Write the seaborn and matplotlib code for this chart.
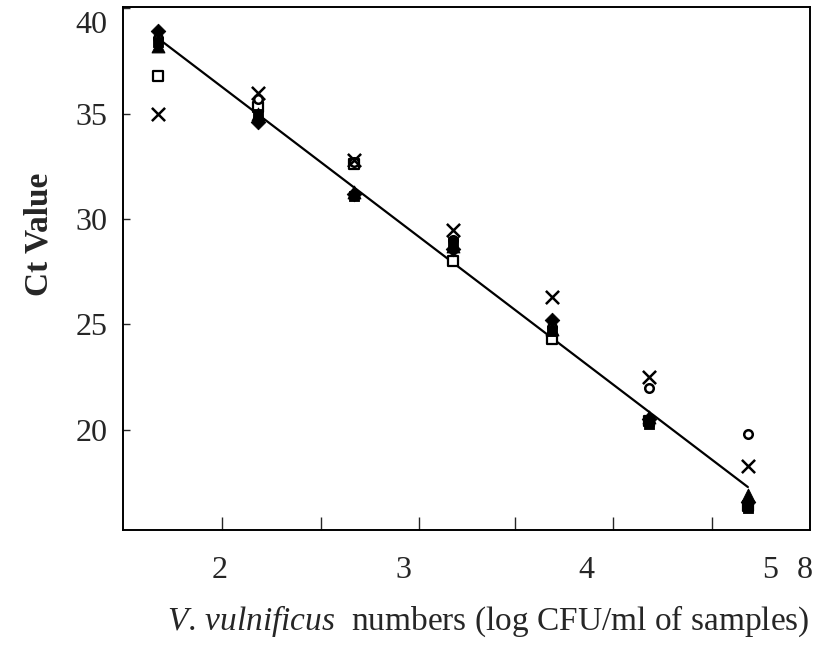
import matplotlib
matplotlib.use('Agg')
import matplotlib.pyplot as plt
import matplotlib.transforms as mtransforms
import seaborn as sns

# log CFU/ml of samples for each dilution
log_cfu = [1.66, 2.21, 2.73, 3.27, 3.81, 4.34, 4.88]

# Ct values per sample (one list per marker)
ct_diamond = [38.9, 34.6, 31.2, 28.6, 25.2, 20.5, 16.6]
ct_fsquare = [38.4, 35.0, 31.1, 28.9, 24.7, 20.3, 16.3]
ct_triangle = [38.2, 35.0, 31.3, 28.7, 24.8, 20.6, 16.9]
ct_osquare = [36.8, 35.3, 32.6, 28.0, 24.3, 20.4, 16.4]
ct_cross = [35.0, 36.0, 32.8, 29.5, 26.3, 22.5, 18.3]
ct_circle = [38.6, 35.7, 32.7, 29.0, 24.9, 22.0, 19.8]

# axis labels as printed in the figure
xtick_pos = [2, 3, 4, 5, 5.19]
xtick_labels = ['2', '3', '4', '5', '8']
xtick_marks = [2.011, 2.551, 3.085, 3.609, 4.144, 4.684]
ytick_pos = [20, 25, 30, 35, 40]

sns.set_style('white')
plt.rcParams['font.family'] = ['Liberation Serif', 'DejaVu Serif']
plt.rcParams['mathtext.fontset'] = 'custom'
plt.rcParams['mathtext.rm'] = 'Liberation Serif'
plt.rcParams['mathtext.it'] = 'Liberation Serif:italic'

fig = plt.figure(figsize=(8.21, 6.48), dpi=100)
ax = fig.add_axes([0.1498, 0.182, 0.8368, 0.807])

# fitted line
sns.regplot(x=log_cfu, y=ct_triangle, scatter=False, ci=None, truncate=True,
            color='black', line_kws={'linewidth': 1.6}, ax=ax)

sns.scatterplot(x=log_cfu, y=ct_osquare, marker='s', s=60, facecolor='white',
                edgecolor='black', linewidth=1.6, ax=ax, zorder=3)
sns.scatterplot(x=log_cfu, y=ct_circle, marker='o', s=38, facecolor='white',
                edgecolor='black', linewidth=1.8, ax=ax, zorder=3)
sns.scatterplot(x=log_cfu, y=ct_fsquare, marker='s', s=60, color='black',
                edgecolor='black', ax=ax, zorder=4)
sns.scatterplot(x=log_cfu, y=ct_triangle, marker='^', s=85, color='black',
                edgecolor='black', ax=ax, zorder=4)
sns.scatterplot(x=log_cfu, y=ct_diamond, marker='D', s=55, color='black',
                edgecolor='black', ax=ax, zorder=4)
sns.scatterplot(x=log_cfu, y=ct_cross, marker='x', s=90, color='black',
                linewidth=1.8, ax=ax, zorder=5)

ax.set_xlim(1.471, 5.219)
ax.set_ylim(15.25, 40.05)

ax.set_xticks(xtick_pos)
ax.set_xticklabels(xtick_labels)
ax.set_xticks(xtick_marks, minor=True)
ax.tick_params(axis='x', which='major', length=0, pad=19, labelsize=23)
ax.tick_params(axis='x', which='minor', direction='in', length=9.5, width=1, bottom=True)
ax.set_yticks(ytick_pos)
ax.tick_params(axis='y', direction='in', length=5, width=1, pad=11, labelsize=23, left=True)

# the "40" label sits a little below the top edge in the original
top_lab = ax.yaxis.get_major_ticks()[-1].label1
top_lab.set_transform(top_lab.get_transform() +
                      mtransforms.ScaledTranslation(0, -14 / 100, fig.dpi_scale_trans))

for sp in ax.spines.values():
    sp.set_color('black')
    sp.set_linewidth(1.4)

ax.set_ylabel('Ct Value', fontsize=24, fontweight='bold')
ax.yaxis.set_label_coords(-0.099, 0.566)
ax.set_xlabel(r'$\mathit{V.\,vulnificus}$  numbers (log CFU/ml of samples)', fontsize=24)
ax.xaxis.set_label_coords(0.531, -0.14)

fig.savefig('out.png', dpi=100)
